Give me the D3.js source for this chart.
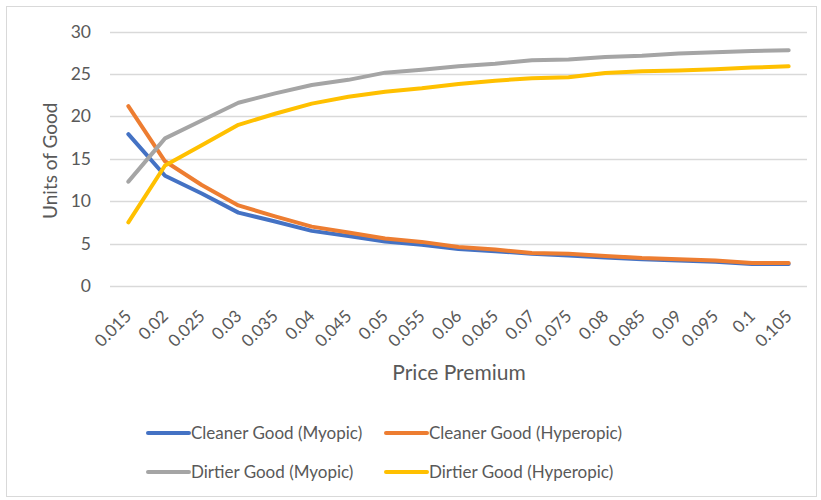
<!DOCTYPE html>
<html>
<head>
<meta charset="utf-8">
<script src="https://cdn.jsdelivr.net/npm/d3@7"></script>
<style>
  html, body { margin: 0; padding: 0; background: #fff; }
  svg { display: block; font-family: Lato, "Open Sans", sans-serif; }
</style>
</head>
<body>
<svg id="chart" width="821" height="500"></svg>
<script>
// Price premium categories (x axis)
const categories = ["0.015","0.02","0.025","0.03","0.035","0.04","0.045","0.05","0.055","0.06",
                    "0.065","0.07","0.075","0.08","0.085","0.09","0.095","0.1","0.105"];

// Units of good for each series
const cleanerMyopic    = [17.9,13.0,10.9,8.65,7.6,6.5,5.9,5.25,4.85,4.35,4.1,3.8,3.6,3.35,3.15,3.0,2.85,2.6,2.6];
const cleanerHyperopic = [21.2,14.7,11.9,9.5,8.2,7.0,6.3,5.6,5.2,4.6,4.3,3.9,3.8,3.55,3.3,3.15,3.0,2.7,2.7];
const dirtierMyopic    = [12.3,17.4,19.5,21.6,22.7,23.7,24.3,25.15,25.5,25.9,26.2,26.6,26.7,27.0,27.15,27.4,27.55,27.7,27.8];
const dirtierHyperopic = [7.5,14.2,16.6,19.0,20.3,21.5,22.3,22.9,23.3,23.8,24.2,24.5,24.6,25.1,25.3,25.4,25.55,25.75,25.9];

const yTicks = [0,5,10,15,20,25,30];

const seriesNames  = ["Cleaner Good (Myopic)","Cleaner Good (Hyperopic)","Dirtier Good (Myopic)","Dirtier Good (Hyperopic)"];
const seriesColors = ["#4472C4","#ED7D31","#A5A5A5","#FFC000"];
const seriesValues = [cleanerMyopic, cleanerHyperopic, dirtierMyopic, dirtierHyperopic];

const svg = d3.select("#chart");

// Chart frame
svg.append("rect")
  .attr("x", 6.5).attr("y", 6.5).attr("width", 810).attr("height", 490)
  .attr("fill", "#fff").attr("stroke", "#d9d9d9").attr("stroke-width", 1);

const plot = { left: 110, right: 807, top: 31.5, bottom: 286 };

const x = d3.scaleBand().domain(categories).range([plot.left, plot.right]);
const y = d3.scaleLinear().domain([0, 30]).range([plot.bottom, plot.top]);

// Horizontal gridlines
svg.append("g")
  .selectAll("line")
  .data(yTicks)
  .join("line")
  .attr("x1", plot.left).attr("x2", plot.right)
  .attr("y1", d => Math.round(y(d)) + 0.5).attr("y2", d => Math.round(y(d)) + 0.5)
  .attr("stroke", "#d9d9d9").attr("stroke-width", 1.3);

// Y axis labels
const yAxis = d3.axisLeft(y).tickValues(yTicks).tickSize(0).tickPadding(0);
const yg = svg.append("g").attr("transform", `translate(${plot.left - 19},0)`).call(yAxis);
yg.select(".domain").remove();
yg.selectAll("text").attr("fill", "#595959").style("font-size", "17.5px").style("font-family", "Lato, sans-serif");

// X axis labels, rotated
const xAxis = d3.axisBottom(x).tickSize(0).tickPadding(0);
const xg = svg.append("g").attr("transform", `translate(0,${plot.bottom})`).call(xAxis);
xg.select(".domain").remove();
xg.selectAll("text")
  .attr("fill", "#595959").style("font-size", "17px").style("font-family", "Lato, sans-serif")
  .attr("text-anchor", "end")
  .attr("dy", "0.35em")
  .attr("transform", "translate(0,27) rotate(-45)");

// Axis titles
svg.append("text")
  .attr("transform", `translate(57,${(plot.top + plot.bottom) / 2 + 2}) rotate(-90)`)
  .attr("text-anchor", "middle")
  .attr("fill", "#595959").style("font-size", "19px")
  .text("Units of Good");

svg.append("text")
  .attr("x", (plot.left + plot.right) / 2 + 0.5).attr("y", 380)
  .attr("text-anchor", "middle")
  .attr("fill", "#595959").style("font-size", "21px")
  .text("Price Premium");

// Series lines
const line = d3.line()
  .x((d, i) => x(categories[i]) + x.bandwidth() / 2)
  .y(d => y(d));

svg.append("g")
  .selectAll("path")
  .data(seriesValues)
  .join("path")
  .attr("d", line)
  .attr("fill", "none")
  .attr("stroke", (d, i) => seriesColors[i])
  .attr("stroke-width", 4)
  .attr("stroke-linecap", "round")
  .attr("stroke-linejoin", "round");

// Legend (2 x 2)
const legendPos = [[148, 433], [386, 433], [148, 472], [386, 472]];
const lg = svg.append("g")
  .selectAll("g")
  .data(seriesNames)
  .join("g")
  .attr("transform", (d, i) => `translate(${legendPos[i][0]},${legendPos[i][1]})`);
lg.append("line")
  .attr("x1", 0).attr("x2", 41).attr("y1", 0).attr("y2", 0)
  .attr("stroke", (d, i) => seriesColors[i])
  .attr("stroke-width", 4).attr("stroke-linecap", "round");
lg.append("text")
  .attr("x", 43).attr("y", 0).attr("dy", "0.35em")
  .attr("fill", "#595959").style("font-size", "17px")
  .text(d => d);
</script>
</body>
</html>
